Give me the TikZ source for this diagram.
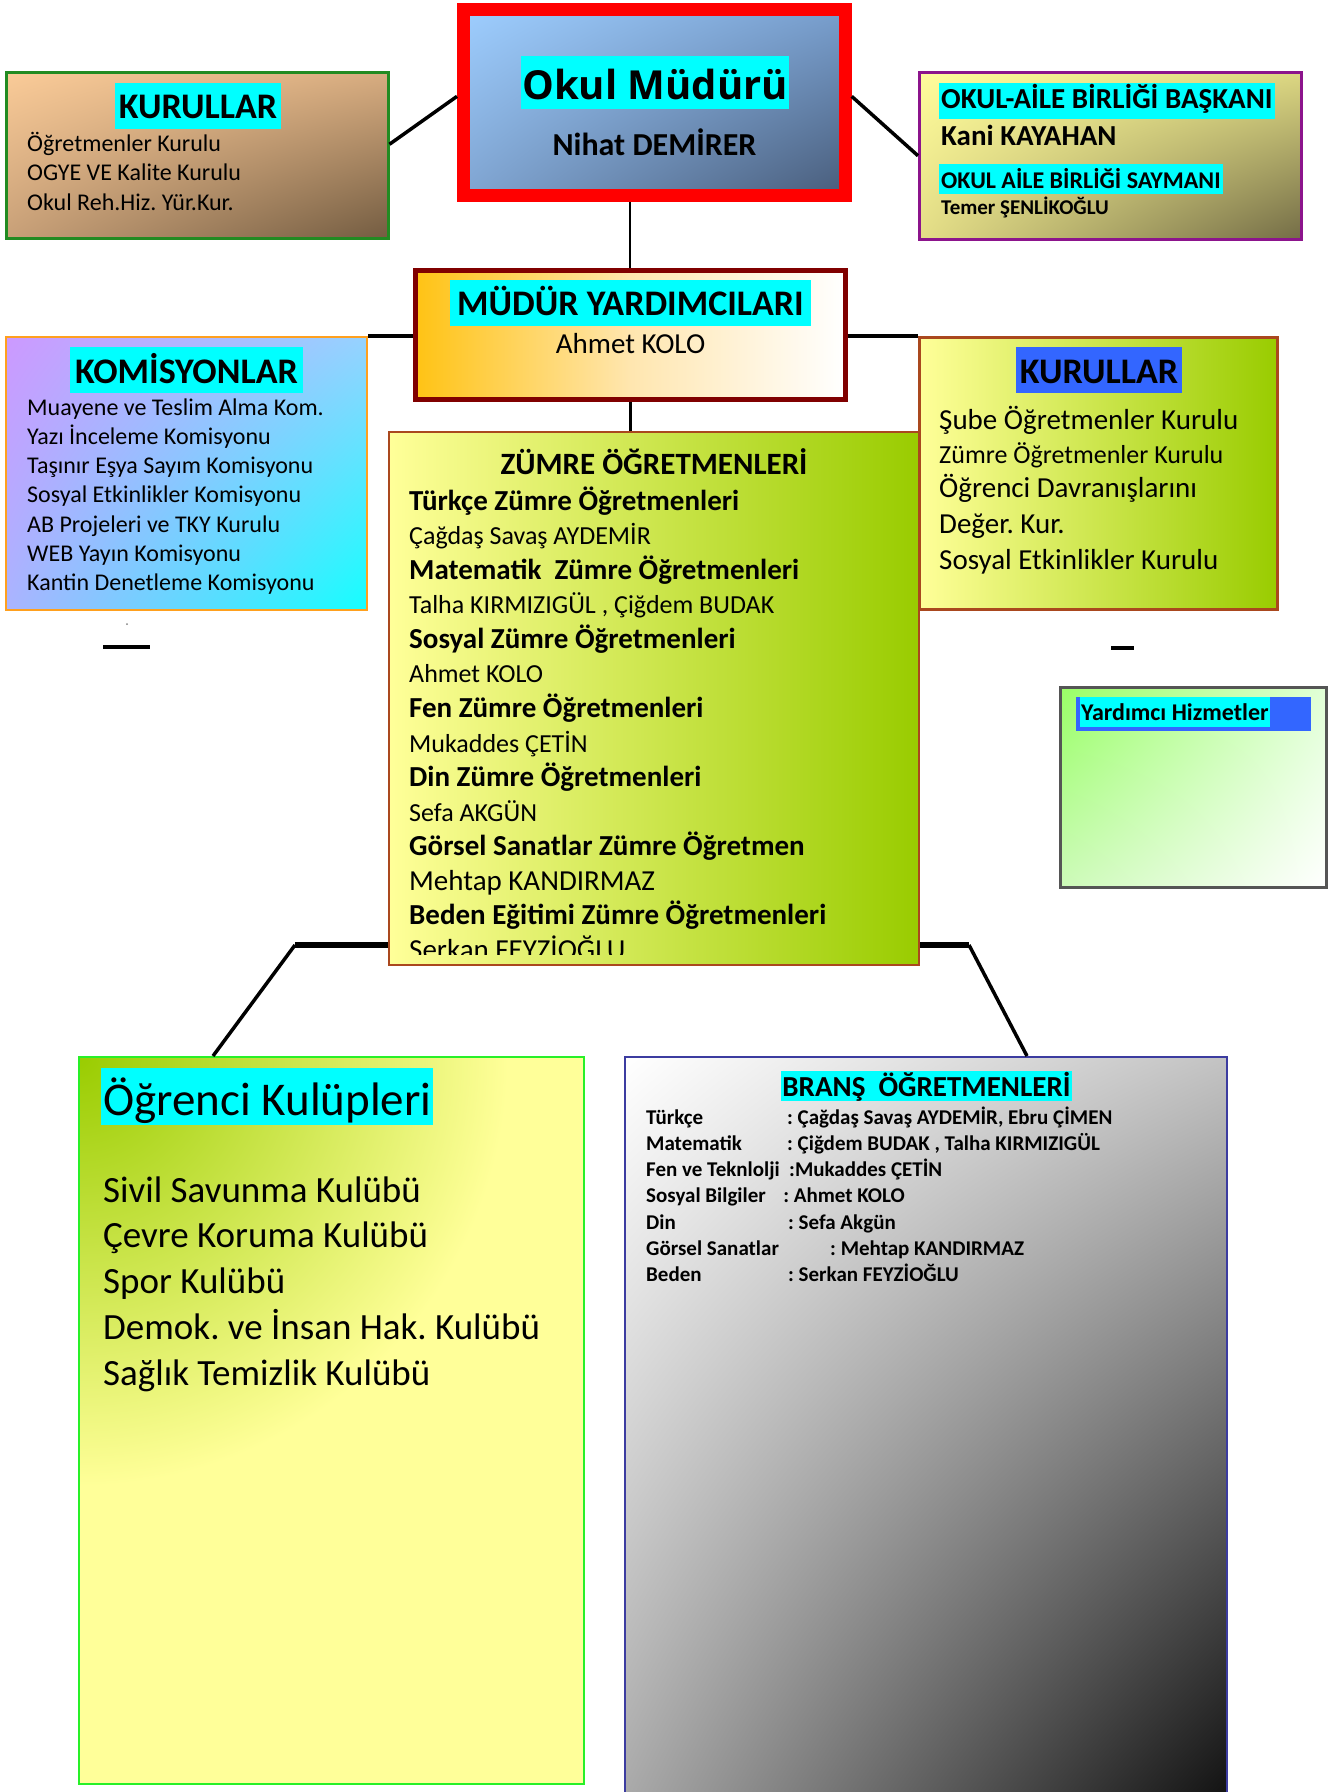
\documentclass[tikz,border=0pt]{standalone}
\usepackage{fontspec}
\setmainfont{Carlito}
\newfontfamily\okulfont{Open Sans}
\usetikzlibrary{shadings}
\frenchspacing

\definecolor{hlcyan}{RGB}{0,255,255}
\definecolor{hlblue}{RGB}{51,102,255}
\definecolor{redframe}{RGB}{255,0,0}
\definecolor{kgreen}{RGB}{34,139,34}
\definecolor{oabpurple}{RGB}{140,20,140}
\definecolor{yardred}{RGB}{128,0,0}
\definecolor{komorange}{RGB}{255,160,30}
\definecolor{kbrown}{RGB}{170,72,30}
\definecolor{hizgray}{RGB}{85,85,85}
\definecolor{kulgreen}{RGB}{40,240,40}
\definecolor{bransblue}{RGB}{60,60,160}
\definecolor{mudurUL}{RGB}{158,206,255}
\definecolor{mudurUR}{RGB}{120,158,205}
\definecolor{mudurLL}{RGB}{128,165,210}
\definecolor{mudurLR}{RGB}{72,92,122}
\definecolor{kurUL}{RGB}{250,203,152}
\definecolor{kurUR}{RGB}{215,172,128}
\definecolor{kurLL}{RGB}{200,160,120}
\definecolor{kurLR}{RGB}{115,92,65}
\definecolor{oabUL}{RGB}{255,252,155}
\definecolor{oabUR}{RGB}{220,215,130}
\definecolor{oabLL}{RGB}{228,222,135}
\definecolor{oabLR}{RGB}{115,108,70}
\definecolor{komUL}{RGB}{204,153,255}
\definecolor{komUR}{RGB}{150,210,255}
\definecolor{komLL}{RGB}{170,180,255}
\definecolor{komLR}{RGB}{20,255,255}
\definecolor{yardL}{RGB}{255,195,20}
\definecolor{yardM}{RGB}{255,230,175}
\definecolor{paleyel}{RGB}{255,255,153}
\definecolor{olive}{RGB}{153,204,0}
\definecolor{hizUL}{RGB}{153,255,102}
\definecolor{hizUR}{RGB}{225,255,215}
\definecolor{hizLL}{RGB}{205,250,185}
\definecolor{brUR}{RGB}{195,195,195}
\definecolor{brLL}{RGB}{168,168,168}
\definecolor{brLR}{RGB}{15,15,15}

\begin{document}
\begin{tikzpicture}[x=1pt, y=-1pt,
  frame/.style={draw, inner sep=0pt, anchor=north west},
  box/.style={frame, shade},
  corners/.style={shading=bilinear interpolation},
  txt/.style={inner sep=0pt, anchor=base west},
  hl/.style={fill=hlcyan, inner xsep=4pt, inner ysep=0pt},
  link/.style={line width=3.5pt},
  bar/.style={line width=5.5pt}]
\useasboundingbox (0,0) rectangle (1341,1792);

% boxes
\node[box, corners, draw=redframe, line width=12.7pt, minimum width=382pt, minimum height=186pt,
  upper left=mudurUL, upper right=mudurUR, lower left=mudurLL, lower right=mudurLR] (mudur) at (457,3) {};
\node[box, corners, draw=kgreen, line width=2.5pt, minimum width=382pt, minimum height=166pt,
  upper left=kurUL, upper right=kurUR, lower left=kurLL, lower right=kurLR] (kurulL) at (5,71) {};
\node[box, corners, draw=oabpurple, line width=2.5pt, minimum width=382pt, minimum height=167pt,
  upper left=oabUL, upper right=oabUR, lower left=oabLL, lower right=oabLR] (oab) at (918,71) {};
\node[box, draw=yardred, line width=4.5pt, minimum width=430pt, minimum height=129pt,
  left color=yardL, right color=white, middle color=yardM] (yard) at (413,268) {};
\node[box, corners, draw=komorange, line width=2pt, minimum width=361pt, minimum height=273pt,
  upper left=komUL, upper right=komUR, lower left=komLL, lower right=komLR] (komis) at (5,336) {};
\node[box, draw=kbrown, line width=2.5pt, minimum width=358pt, minimum height=272pt,
  left color=paleyel, right color=olive] (kurulR) at (918,336) {};
\node[box, draw=kbrown, line width=2pt, minimum width=530pt, minimum height=533pt,
  left color=paleyel, right color=olive] (zumre) at (388,431) {};
\node[box, corners, draw=hizgray, line width=3pt, minimum width=266pt, minimum height=200pt,
  upper left=hizUL, upper right=hizUR, lower left=hizLL, lower right=white] (yardhiz) at (1059,686) {};
\node[frame, draw=kulgreen, fill=paleyel, line width=2pt, minimum width=505pt, minimum height=727pt] (kulup) at (78,1056) {};
\node[box, corners, draw=bransblue, line width=2pt, minimum width=602pt, minimum height=752pt,
  upper left=white, upper right=brUR, lower left=brLL, lower right=brLR] (brans) at (624,1056) {};

% green glow from the top left corner of the clubs box
\begin{scope}
\clip ([xshift=2pt,yshift=-2pt]kulup.north west) rectangle ([xshift=-2pt,yshift=2pt]kulup.south east);
\shade[inner color=olive, outer color=paleyel] (kulup.north west) circle (430);
\end{scope}

% connectors
\coordinate (bendL) at (295,945);
\coordinate (bendR) at (969,945);
\draw[link] ([yshift=11pt]kurulL.east) -- ([yshift=6pt]mudur.west);
\draw[link] ([yshift=6pt]mudur.east) -- (oab.west);
\draw[line width=2pt] (yard.north) -- (yard.north |- mudur.south);
\draw[link] (yard.south) -- (yard.south |- zumre.north);
\draw[link] (komis.north east) -- (komis.north east -| yard.west);
\draw[link] (yard.east |- kurulR.north west) -- (kurulR.north west);
\draw[bar] (zumre.west |- bendL) -- (bendL);
\draw[link] (bendL) -- ([xshift=135pt]kulup.north west);
\draw[bar] (zumre.east |- bendR) -- (bendR);
\draw[link] (bendR) -- ([xshift=403pt]brans.north west);
\draw[line width=4pt] (103,647) -- (150,647);
\draw[line width=4pt] (1111,648) -- (1134,648);
\fill[gray] (127,624) circle (1pt);

% okul muduru
\node[hl, anchor=base, inner xsep=1pt, text height=43pt, text depth=10pt,
  font=\okulfont\bfseries\fontsize{40}{40}\selectfont] (mudurt) at (655,99) {Okul Müdürü};
\node[txt, anchor=base, font=\bfseries\fontsize{32}{32}\selectfont] (mudurn) at (654.5,155) {Nihat DEMİRER};

% kurullar (left)
\node[hl, anchor=base, text height=35pt, text depth=11pt,
  font=\bfseries\fontsize{36}{36}\selectfont] (kurulLt) at (198,118) {KURULLAR};
\foreach \t [count=\i] in {Öğretmenler Kurulu, OGYE VE Kalite Kurulu, Okul Reh.Hiz. Yür.Kur.}
  \node[txt, font=\fontsize{24}{24}\selectfont] (kurulL\i) at (27,{151+(\i-1)*29.5}) {\t};

% okul-aile birligi
\node[hl, anchor=base west, inner xsep=2pt, text height=25pt, text depth=11pt,
  font=\bfseries\fontsize{29}{29}\selectfont] (oab1) at (939,108) {OKUL-AİLE BİRLİĞİ BAŞKANI};
\node[txt, font=\bfseries\fontsize{29}{29}\selectfont] (oab2) at (941,145) {Kani KAYAHAN};
\node[hl, anchor=base west, inner xsep=2pt, text height=24pt, text depth=6pt,
  font=\bfseries\fontsize{24}{24}\selectfont] (oab3) at (939,188) {OKUL AİLE BİRLİĞİ SAYMANI};
\node[txt, font=\bfseries\fontsize{21}{21}\selectfont] (oab4) at (941,214) {Temer ŞENLİKOĞLU};

% mudur yardimcilari
\node[hl, anchor=base, inner xsep=7pt, text height=35pt, text depth=11pt,
  font=\bfseries\fontsize{36}{36}\selectfont] (yardt) at (630.5,315) {MÜDÜR YARDIMCILARI};
\node[txt, anchor=base, font=\fontsize{29}{29}\selectfont] (yardn) at (630.5,353) {Ahmet KOLO};

% komisyonlar
\node[hl, anchor=base, inner xsep=5pt, text height=36pt, text depth=10pt,
  font=\bfseries\fontsize{36}{36}\selectfont] (komist) at (186.5,383) {KOMİSYONLAR};
\foreach \t [count=\i] in {Muayene ve Teslim Alma Kom., Yazı İnceleme Komisyonu,
    Taşınır Eşya Sayım Komisyonu, Sosyal Etkinlikler Komisyonu, AB Projeleri ve TKY Kurulu,
    WEB Yayın Komisyonu, Kantin Denetleme Komisyonu}
  \node[txt, font=\fontsize{24}{24}\selectfont] (komis\i) at (27,{415+(\i-1)*29.3}) {\t};

% kurullar (right)
\node[hl, fill=hlblue, anchor=base, text height=36pt, text depth=10pt,
  font=\bfseries\fontsize{36}{36}\selectfont] (kurulRt) at (1099,383) {KURULLAR};
\foreach \sz/\y/\t [count=\i] in {29/429/Şube Öğretmenler Kurulu, 26/463/Zümre Öğretmenler Kurulu,
    29/497/Öğrenci Davranışlarını, 29/533/Değer. Kur., 29/569/Sosyal Etkinlikler Kurulu}
  \node[txt, font=\fontsize{\sz}{\sz}\selectfont] (kurulR\i) at (939,\y) {\t};

% zumre ogretmenleri, cut at the bottom edge
\node[txt, anchor=base, font=\bfseries\fontsize{31}{31}\selectfont] (zumret) at (654,474) {ZÜMRE ÖĞRETMENLERİ};
\begin{scope}
\clip (zumre.north west) rectangle ([yshift=12pt]zumre.south east);
\foreach \sz/\t [count=\i] in {29/{\bfseries Türkçe Zümre Öğretmenleri}, 26/{Çağdaş Savaş AYDEMİR},
    29/{\bfseries Matematik\ \ Zümre Öğretmenleri}, 26/{Talha KIRMIZIGÜL , Çiğdem BUDAK},
    29/{\bfseries Sosyal Zümre Öğretmenleri}, 26/{Ahmet KOLO},
    29/{\bfseries Fen Zümre Öğretmenleri}, 26/{Mukaddes ÇETİN},
    29/{\bfseries Din Zümre Öğretmenleri}, 26/{Sefa AKGÜN},
    29/{\bfseries Görsel Sanatlar Zümre Öğretmen}, 29/{Mehtap KANDIRMAZ},
    29/{\bfseries Beden Eğitimi Zümre Öğretmenleri}, 29/{Serkan FEYZİOĞLU}}
  \node[txt, font=\fontsize{\sz}{\sz}\selectfont] (zumre\i) at (409,{510+(\i-1)*34.57}) {\t};
\end{scope}

% yardimci hizmetler
\node[fill=hlblue, anchor=north west, inner sep=0pt, minimum width=235pt, minimum height=34pt] (hizbar) at (1076,697) {};
\node[hl, anchor=base west, inner xsep=1pt, text height=23pt, text depth=7pt,
  font=\bfseries\fontsize{24}{24}\selectfont] (hizt) at (1080,720) {Yardımcı Hizmetler};

% ogrenci kulupleri
\node[hl, anchor=base west, inner xsep=2pt, text height=47pt, text depth=10pt,
  font=\fontsize{47}{47}\selectfont] (kulupt) at (101,1115) {Öğrenci Kulüpleri};
\foreach \t [count=\i] in {Sivil Savunma Kulübü, Çevre Koruma Kulübü, Spor Kulübü,
    Demok. ve İnsan Hak. Kulübü, Sağlık Temizlik Kulübü}
  \node[txt, font=\fontsize{37}{37}\selectfont] (kulup\i) at (103,{1202+(\i-1)*45.75}) {\t};

% brans ogretmenleri
\node[hl, anchor=base, inner xsep=1pt, text height=25pt, text depth=5pt,
  font=\bfseries\fontsize{29}{29}\selectfont] (branst) at (926.5,1096) {BRANŞ\ \ ÖĞRETMENLERİ};
\foreach \lab/\w/\val [count=\i] in {Türkçe/141/{: Çağdaş Savaş AYDEMİR, Ebru ÇİMEN},
    Matematik/141/{: Çiğdem BUDAK , Talha KIRMIZIGÜL}, {Fen ve Teknlolji}/143/{:Mukaddes ÇETİN},
    {Sosyal Bilgiler}/137/{: Ahmet KOLO}, Din/142/{: Sefa Akgün},
    {Görsel Sanatlar}/184/{: Mehtap KANDIRMAZ}, Beden/142/{: Serkan FEYZİOĞLU}}
  \node[txt, font=\bfseries\fontsize{21}{21}\selectfont] (brans\i) at (646,{1124+(\i-1)*26.3}) {\makebox[\w pt][l]{\lab}\val};

\end{tikzpicture}
\end{document}
